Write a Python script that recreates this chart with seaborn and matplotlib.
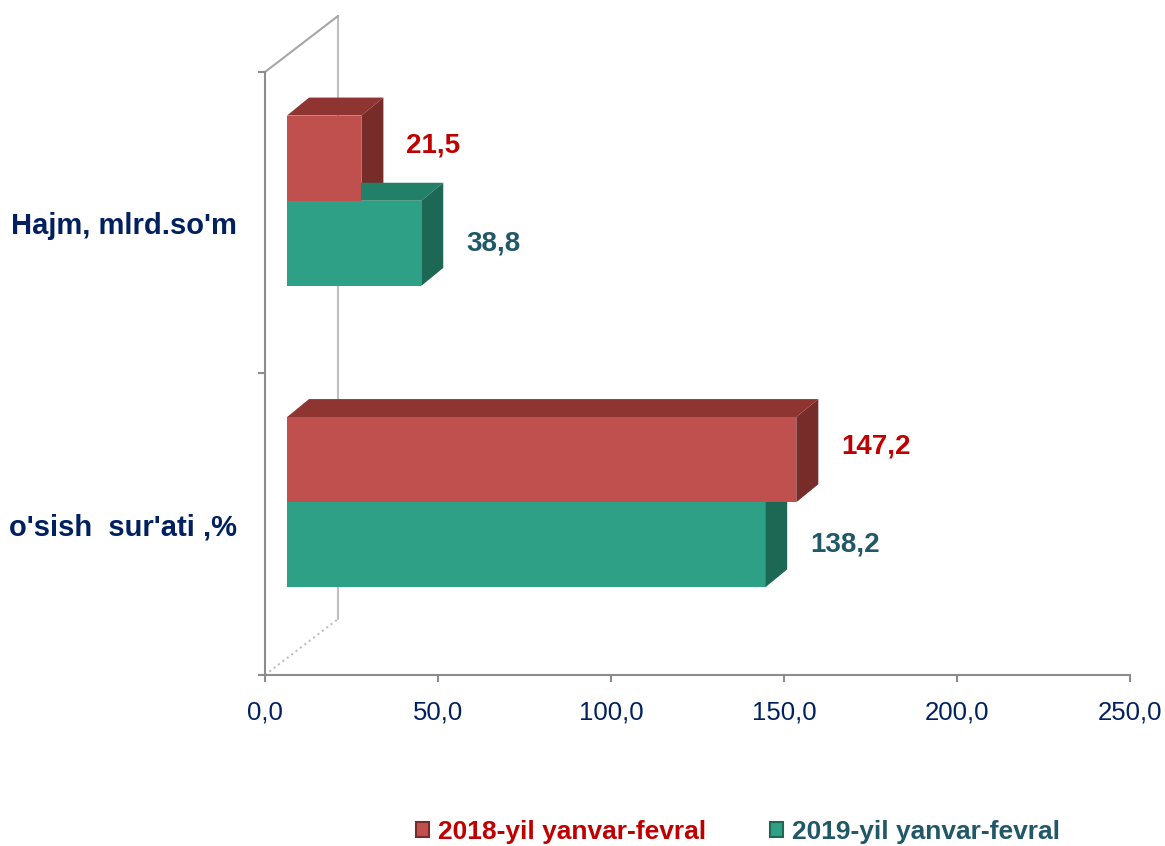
import matplotlib
matplotlib.use("Agg")
import matplotlib.pyplot as plt
import seaborn as sns
import pandas as pd
from matplotlib.transforms import offset_copy, IdentityTransform
from matplotlib.patches import Polygon, Patch
from matplotlib.lines import Line2D

# -------- data --------
categories = ["Hajm, mlrd.so'm", "o'sish  sur'ati ,%"]
series = ["2018-yil yanvar-fevral", "2019-yil yanvar-fevral"]
values_2018 = [21.5, 147.2]
values_2019 = [38.8, 138.2]
labels_2018 = ["21,5", "147,2"]
labels_2019 = ["38,8", "138,2"]
x_ticks = [0, 50, 100, 150, 200, 250]
x_tick_labels = ["0,0", "50,0", "100,0", "150,0", "200,0", "250,0"]

df = pd.DataFrame({
    "category": categories * 2,
    "series": [series[0]] * 2 + [series[1]] * 2,
    "value": values_2018 + values_2019,
})

# colours: front, top, side, text
front = {series[0]: "#C0504D", series[1]: "#2DA086"}
top = {series[0]: "#8E3532", series[1]: "#238068"}
side = {series[0]: "#772C2A", series[1]: "#1C6854"}
text_col = {series[0]: "#C00000", series[1]: "#215868"}
navy = "#002060"
grey = "#8C8C8C"

sns.set_style("white")
plt.rcParams["font.family"] = ["Liberation Sans", "DejaVu Sans"]

W, H = 1165, 846
fig = plt.figure(figsize=(W / 100, H / 100), dpi=100)
ax = fig.add_axes([265 / W, (H - 675) / H, 865 / W, 603 / H])

sns.barplot(data=df, y="category", x="value", hue="series", order=categories,
            hue_order=series, palette=front, orient="h", width=0.565,
            saturation=1, legend=False, ax=ax)

ax.set_xlim(0, 250)
ax.set_ylim(1.5, -0.5)
ax.set_xlabel("")
ax.set_ylabel("")

# -------- 3D look: shift fronts, add top and side faces --------
bar_shift = offset_copy(ax.transData, fig=fig, x=22, y=22, units="dots")
dx, dy = 22, 18
labels = {series[0]: labels_2018, series[1]: labels_2019}
label_dy = {series[0]: 35, series[1]: 22}

patches = sorted(ax.patches, key=lambda p: p.get_y())
for p in patches:
    col = p.get_facecolor()
    s = series[0] if abs(col[0] - 0.75) < 0.05 else series[1]
    p.set_transform(bar_shift)
    p.set_clip_on(False)
    p.set_zorder(3)
    p.set_edgecolor("none")

    x0, y0, w, h = p.get_x(), p.get_y(), p.get_width(), p.get_height()
    (L, B), (R, T) = bar_shift.transform([(x0, y0 + h), (x0 + w, y0)])
    top_face = [(L, T), (R, T), (R + dx, T + dy), (L + dx, T + dy)]
    side_face = [(R, B), (R + dx, B + dy), (R + dx, T + dy), (R, T)]
    ax.add_patch(Polygon(top_face, closed=True, facecolor=top[s], edgecolor="none",
                         transform=IdentityTransform(), clip_on=False, zorder=2))
    ax.add_patch(Polygon(side_face, closed=True, facecolor=side[s], edgecolor="none",
                         transform=IdentityTransform(), clip_on=False, zorder=2))

    cat_idx = int(round(y0 + h / 2 + (0.1413 if s == series[0] else -0.1413)))
    lbl = labels[s][cat_idx]
    lab_tr = offset_copy(ax.transData, fig=fig, x=67, y=label_dy[s], units="dots")
    ax.text(x0 + w, y0 + h / 2, lbl, transform=lab_tr, ha="left", va="center",
            fontsize=20, fontweight="bold", color=text_col[s], clip_on=False)

# -------- frame: back wall and diagonals --------
depth = (73, 56)
(ax0, ay0), (ax1, ay1) = ax.transAxes.transform([(0, 0), (0, 1)])
back_bottom = (ax0 + depth[0], ay0 + depth[1])
back_top = (ax1 + depth[0], ay1 + depth[1])
for xs, ys, ls, c in [
    ([back_bottom[0], back_top[0]], [back_bottom[1], back_top[1]], "-", "#BFBFBF"),
    ([ax1, back_top[0]], [ay1, back_top[1]], "-", "#A6A6A6"),
    ([ax0, back_bottom[0]], [ay0, back_bottom[1]], ":", "#BFBFBF"),
]:
    ax.add_line(Line2D(xs, ys, linestyle=ls, color=c, linewidth=1.5,
                       transform=IdentityTransform(), clip_on=False, zorder=0.5))

# -------- axes styling --------
sns.despine(ax=ax, top=True, right=True)
for sp in ["left", "bottom"]:
    ax.spines[sp].set_color(grey)
    ax.spines[sp].set_linewidth(1.5)

ax.set_xticks(x_ticks)
ax.set_xticklabels(x_tick_labels)
ax.set_yticks([-0.5, 0.5, 1.5])
ax.set_yticklabels([])
ax.set_yticks([0, 1], minor=True)
ax.set_yticklabels(categories, minor=True)
ax.tick_params(axis="x", which="major", bottom=True, length=5, width=1.5,
               color=grey, pad=13, labelsize=18.5, labelcolor=navy)
ax.tick_params(axis="y", which="major", left=True, length=5, width=1.5, color=grey)
ax.tick_params(axis="y", which="minor", left=True, length=0, pad=20,
               labelsize=21, labelcolor=navy)
for t in ax.get_yticklabels(minor=True):
    t.set_fontweight("bold")

# -------- legend --------
handles = [Patch(facecolor=front[s], edgecolor=side[s], linewidth=1.5) for s in series]
fig.legend(handles, series, loc="center", bbox_to_anchor=(738 / W, (H - 832) / H),
           ncol=2, frameon=False, handlelength=0.5, handleheight=0.5,
           handletextpad=0.35, columnspacing=2.4, labelcolor=[text_col[s] for s in series],
           prop={"size": 19, "weight": "bold"})

fig.savefig("out.png", dpi=100)
